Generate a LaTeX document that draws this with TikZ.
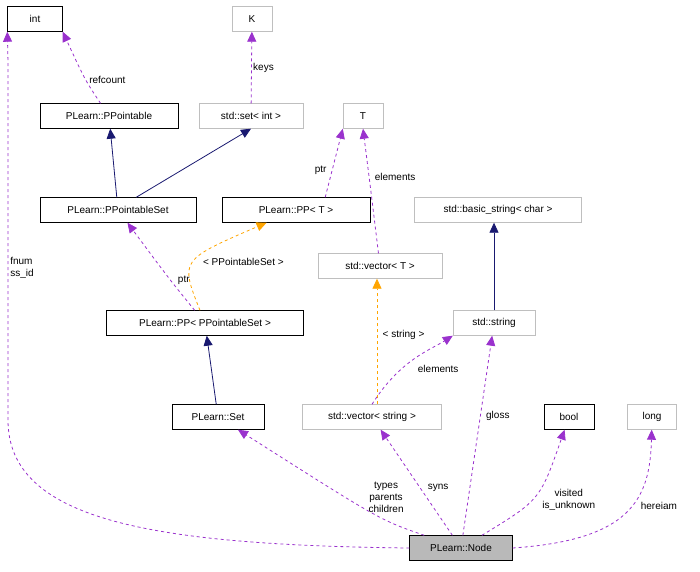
\documentclass[tikz,border=0pt]{standalone}
\usepackage{fontspec}
\setmainfont{Liberation Sans}
\usetikzlibrary{positioning,arrows.meta}
\definecolor{navy}{HTML}{191970}
\definecolor{purp}{HTML}{9A32CD}
\definecolor{orng}{HTML}{FFA500}
\definecolor{grayline}{HTML}{BFBFBF}
\tikzset{
  cls/.style={draw=black, minimum height=25pt, inner xsep=4pt, font=\fontsize{10}{11}\selectfont},
  ext/.style={cls, draw=grayline},
  inh/.style={navy, thick, -{Triangle[length=10pt,width=9pt]}},
  use/.style={purp, dashed, thick, -{Triangle[length=10pt,width=9pt]}},
  tpl/.style={orng, dashed, thick, -{Triangle[length=10pt,width=9pt]}},
  lbl/.style={text=black, font=\fontsize{10}{12}\selectfont, align=center}
}
\begin{document}
\begin{tikzpicture}[x=1pt,y=-1pt]
  \useasboundingbox (0,0) rectangle (700,571);
  % classes
  \node[cls, minimum width=55pt] (int) at (35,19) {int};
  \node[ext, minimum width=40pt] (K) at (252,19) {K};
  \node[cls, minimum width=138pt] (ppointable) at (109,116) {PLearn::PPointable};
  \node[ext, minimum width=104pt] (setint) at (251,116) {std::set< int >};
  \node[ext, minimum width=40pt] (T) at (363,116) {T};
  \node[cls, minimum width=156pt] (ppointableset) at (118,210) {PLearn::PPointableSet};
  \node[cls, minimum width=148pt] (ppT) at (296,210) {PLearn::PP< T >};
  \node[ext, minimum width=167pt] (basicstr) at (498,210) {std::basic\_string< char >};
  \node[ext, minimum width=124pt] (vecT) at (380,266) {std::vector< T >};
  \node[cls, minimum width=197pt] (ppset) at (205,323) {PLearn::PP< PPointableSet >};
  \node[ext, minimum width=82pt] (string) at (494,323) {std::string};
  \node[cls, minimum width=92pt] (set) at (218,417) {PLearn::Set};
  \node[ext, minimum width=139pt] (vecstr) at (372,417) {std::vector< string >};
  \node[cls, minimum width=50pt] (bool) at (569,417) {bool};
  \node[ext, minimum width=49pt] (long) at (652,417) {long};
  \node[cls, minimum width=103pt, fill=gray!55] (node) at (461,548) {PLearn::Node};
  % inheritance
  \draw[inh] (ppointableset) -- (ppointable);
  \draw[inh] (ppointableset.north east) ++(-60,0) coordinate (a1) (a1) -- (setint.south);
  \draw[inh] (set) -- (ppset);
  \draw[inh] (string) -- (basicstr.south -| string);
  % usage
  \draw[use] (ppointable) .. controls (85,80) .. (int.south east) node[lbl, pos=0.45, right] {refcount};
  \draw[use] (setint) -- (K) node[lbl, midway, right=-2pt] {keys};
  \draw[use] (ppT.north east) ++(-45,0) coordinate (a2) (a2) -- (T.south west) node[lbl, pos=0.4, left=2pt] {ptr};
  \draw[use] (vecT) .. controls (372,200) .. (T.south) node[lbl, pos=0.7, right=2pt] {elements};
  \draw[use] (ppset) .. controls (170,280) .. (ppointableset) node[lbl, pos=0.45, right=4pt] {ptr};
  \draw[tpl] (ppset) .. controls (180,260) .. (ppT) node[lbl, pos=0.5, right=6pt] {< PPointableSet >};
  \draw[tpl] (vecstr.north) ++(5,0) coordinate (a3) (a3) -- (a3 |- vecT.south) node[lbl, pos=0.55, right=2pt] {< string >};
  \draw[use] (vecstr.north) .. controls (400,360) and (430,350) .. (string.south west) node[lbl, pos=0.45, below right=0pt and 4pt] {elements};
  \draw[use] (node) .. controls (380,520) .. (set) node[lbl, pos=0.35, above=4pt] {types\\parents\\children};
  \draw[use] (node) -- (vecstr) node[lbl, pos=0.45, right=4pt] {syns};
  \draw[use] (node) -- (string) node[lbl, pos=0.6, right=2pt] {gloss};
  \draw[use] (node) .. controls (540,500) .. (bool) node[lbl, pos=0.45, right=6pt] {visited\\is\_unknown};
  \draw[use] (node.east) .. controls (630,540) and (650,500) .. (long) node[lbl, pos=0.55, right=6pt] {hereiam};
  \draw[use] (node.west) .. controls (150,545) and (8,520) .. (8,420) -- (8,90) .. controls (8,60) .. (int.south west);
  \node[lbl, align=left] (fnum) at (22,268) {fnum\\ss\_id};
\end{tikzpicture}
\end{document}
